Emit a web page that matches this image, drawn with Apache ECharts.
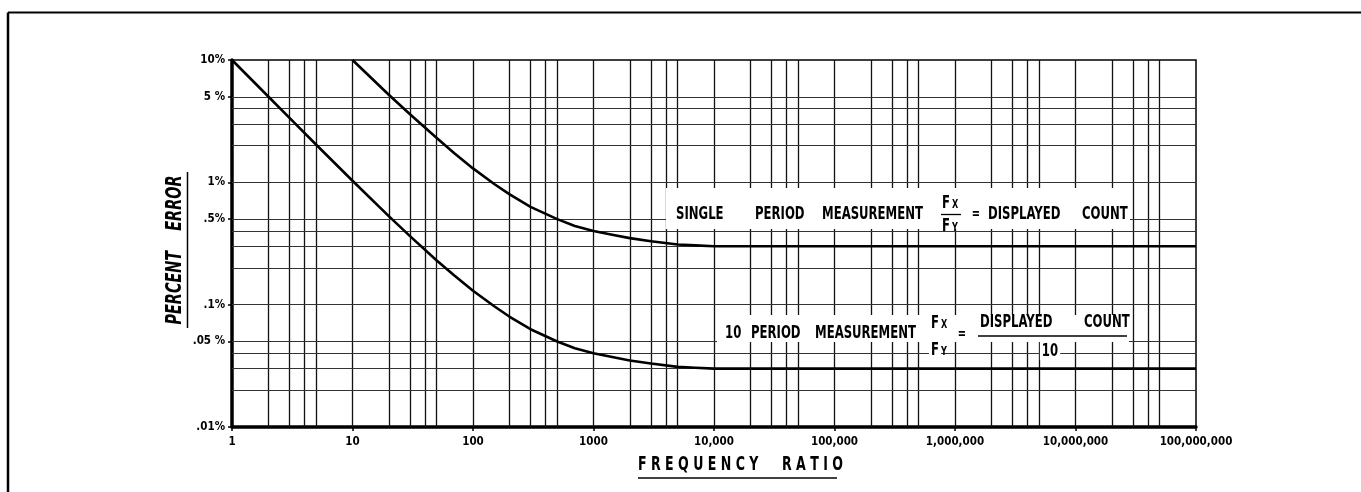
<!DOCTYPE html>
<html>
<head>
<meta charset="utf-8">
<script src="https://cdn.jsdelivr.net/npm/echarts@6/dist/echarts.min.js"></script>
<style>
html, body { margin: 0; padding: 0; background: #fff; }
#chart { width: 1361px; height: 492px; }
</style>
</head>
<body>
<div id="chart"></div>
<script>
// values (percent error vs frequency ratio)
const tenRatio = [1, 2, 3, 5, 10, 20, 30, 50, 70, 100, 150, 200, 300, 500, 700, 1000, 1500, 2000, 3000, 5000, 7000, 10000, 100000, 1000000, 10000000, 100000000];
const tenErr = [10, 5.03, 3.36, 2.03, 1.03, 0.53, 0.363, 0.23, 0.173, 0.13, 0.097, 0.08, 0.063, 0.05, 0.044, 0.04, 0.037, 0.035, 0.033, 0.031, 0.0305, 0.03, 0.03, 0.03, 0.03, 0.03];
const singleRatio = [10, 20, 30, 50, 70, 100, 150, 200, 300, 500, 700, 1000, 1500, 2000, 3000, 5000, 7000, 10000, 100000, 1000000, 10000000, 100000000];
const singleErr = [10, 5.2, 3.6, 2.3, 1.73, 1.3, 0.97, 0.8, 0.63, 0.5, 0.44, 0.4, 0.37, 0.35, 0.33, 0.31, 0.305, 0.3, 0.3, 0.3, 0.3, 0.3];

const xTickValues = [1, 10, 100, 1000, 1e4, 1e5, 1e6, 1e7, 1e8];
const xTickLabels = ['1', '10', '100', '1000', '10,000', '100,000', '1,000,000', '10,000,000', '100,000,000'];
const yTickValues = [0.01, 0.05, 0.1, 0.5, 1, 5, 10];
const yTickLabels = ['.01%', '.05 %', '.1%', '.5%', '1%', '5 %', '10%'];

// grid rulings: decades plus 2,3,4,5 of each decade
const gridSteps = [1, 2, 3, 4, 5];
const xDecades = [1, 10, 100, 1000, 1e4, 1e5, 1e6, 1e7];
const yDecades = [0.01, 0.1, 1];

const FONT = '"DejaVu Sans Condensed", "DejaVu Sans", sans-serif';

function pickLabel(values, labels, v) {
  let best = 0;
  values.forEach((t, i) => {
    if (Math.abs(Math.log10(t / v)) < Math.abs(Math.log10(values[best] / v))) best = i;
  });
  return labels[best];
}

const vLines = [];
xDecades.forEach(d => gridSteps.forEach(m => { if (d * m > 1) vLines.push(d * m); }));
const hLines = [];
yDecades.forEach(d => gridSteps.forEach(m => { if (d * m > 0.01) hLines.push(d * m); }));

const chart = echarts.init(document.getElementById('chart'));

function word(text, x, y, opt = {}) {
  return {
    type: 'text',
    x: x,
    y: y,
    z: 20,
    scaleY: opt.scaleY || 1.4,
    rotation: opt.rotation || 0,
    style: {
      text: text,
      fill: '#000',
      fontFamily: FONT,
      fontSize: opt.size || 13,
      fontWeight: 'bold',
      fontStyle: opt.italic ? 'italic' : 'normal',
      textAlign: opt.align || 'left',
      textVerticalAlign: 'middle',
      align: opt.align || 'left',
      verticalAlign: 'middle',
      backgroundColor: opt.bg || null,
      padding: opt.bg ? [0, 2] : 0
    }
  };
}

function rule(x1, y1, x2, y2, w) {
  return {
    type: 'line',
    z: 20,
    shape: { x1, y1, x2, y2 },
    style: { stroke: '#000', lineWidth: w || 1.5 }
  };
}

const option = {
  animation: false,
  backgroundColor: '#fff',
  grid: {
    left: 232, right: 165, top: 60, bottom: 65,
    show: true, borderColor: '#000', borderWidth: 1.5, backgroundColor: 'transparent'
  },
  xAxis: {
    type: 'log', logBase: 10, min: 1, max: 1e8,
    axisLine: { onZero: false, lineStyle: { color: '#000', width: 3.5 } },
    axisTick: { show: true, customValues: xTickValues, length: 4, lineStyle: { color: '#000', width: 1.5 } },
    axisLabel: {
      customValues: xTickValues,
      margin: 9,
      color: '#000',
      fontFamily: FONT,
      fontWeight: 'bold',
      fontSize: 11.5,
      formatter: v => pickLabel(xTickValues, xTickLabels, v)
    },
    splitLine: { show: false }
  },
  yAxis: {
    type: 'log', logBase: 10, min: 0.01, max: 10,
    axisLine: { onZero: false, lineStyle: { color: '#000', width: 3.5 } },
    axisTick: { show: true, customValues: yTickValues, length: 4, lineStyle: { color: '#000', width: 1.5 } },
    axisLabel: {
      customValues: yTickValues,
      margin: 7,
      color: '#000',
      fontFamily: FONT,
      fontWeight: 'bold',
      fontSize: 11.5,
      formatter: v => pickLabel(yTickValues, yTickLabels, v)
    },
    splitLine: { show: false }
  },
  series: [
    {
      name: 'rulings',
      type: 'line',
      data: [],
      z: 1,
      silent: true,
      markLine: {
        silent: true,
        symbol: ['none', 'none'],
        label: { show: false },
        emphasis: { disabled: true },
        animation: false,
        data: vLines.map(v => ({ xAxis: v, lineStyle: { color: '#111', width: 1.3, type: 'solid' } }))
          .concat(hLines.map(v => ({ yAxis: v, lineStyle: { color: '#333', width: 1, type: 'solid' } })))
      }
    },
    {
      name: 'single period',
      type: 'line',
      z: 5,
      silent: true,
      symbol: 'none',
      lineStyle: { color: '#000', width: 2.6, join: 'round' },
      data: singleRatio.map((x, i) => [x, singleErr[i]])
    },
    {
      name: '10 period',
      type: 'line',
      z: 5,
      silent: true,
      symbol: 'none',
      lineStyle: { color: '#000', width: 2.6, join: 'round' },
      data: tenRatio.map((x, i) => [x, tenErr[i]])
    }
  ],
  graphic: [
    // page frame
    rule(8, 12.5, 1361, 12.5, 2),
    rule(8, 12.5, 8, 492, 2.5),
    // label boxes
    { type: 'rect', z: 15, shape: { x: 666, y: 188, width: 464, height: 41 }, style: { fill: '#fff' } },
    { type: 'rect', z: 15, shape: { x: 717, y: 315, width: 412, height: 27 }, style: { fill: '#fff' } },
    // single period note
    word('SINGLE', 676, 214),
    word('PERIOD', 755, 214),
    word('MEASUREMENT', 822, 214),
    word('F', 946, 203, { align: 'center' }),
    word('X', 955, 205, { size: 9, align: 'center' }),
    rule(941, 214.5, 961, 214.5, 1.3),
    word('F', 946, 226, { align: 'center' }),
    word('Y', 955, 228, { size: 9, align: 'center' }),
    word('=', 976, 214, { align: 'center', size: 11 }),
    word('DISPLAYED', 988, 214),
    word('COUNT', 1082, 214),
    // 10 period note
    word('10', 725, 333),
    word('PERIOD', 751, 333),
    word('MEASUREMENT', 815, 333),
    word('F', 935, 323, { align: 'center' }),
    word('X', 944, 325, { size: 9, align: 'center' }),
    word('F', 935, 350, { align: 'center', bg: '#fff' }),
    word('Y', 944, 352, { size: 9, align: 'center' }),
    word('=', 962, 334, { align: 'center', size: 11 }),
    word('DISPLAYED', 980, 322),
    word('COUNT', 1084, 322),
    rule(978, 336, 1127, 336, 1.5),
    word('10', 1050, 351, { align: 'center', bg: '#fff' }),
    // axis titles
    word('F R E Q U E N C Y', 638, 465, { size: 14 }),
    word('R A T I O', 782, 465, { size: 14 }),
    rule(638, 478, 837, 478, 1.5),
    word('PERCENT    ERROR', 176, 250, { rotation: Math.PI / 2, align: 'center', italic: true, size: 16, scaleY: 1.3 }),
    rule(187.5, 172, 187.5, 328, 1.5)
  ]
};

chart.setOption(option);
</script>
</body>
</html>
